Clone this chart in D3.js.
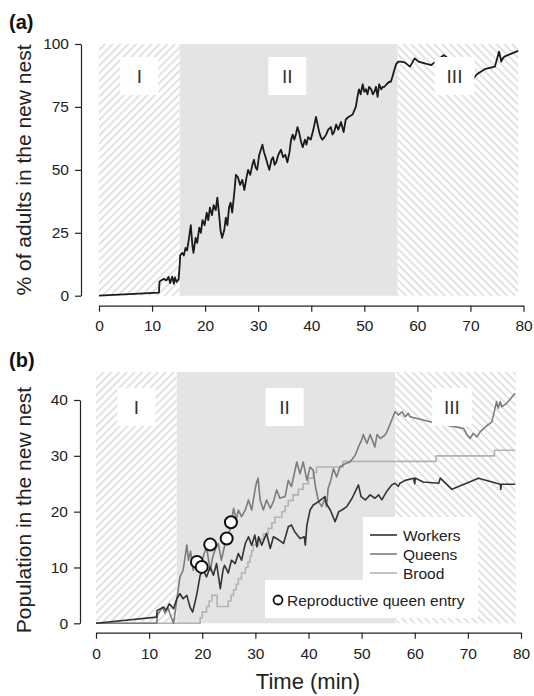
<!DOCTYPE html>
<html>
<head>
<meta charset="utf-8">
<script src="https://cdn.jsdelivr.net/npm/d3@7"></script>
<style>
  body { margin: 0; background: #fff; }
  svg { display: block; font-family: "Liberation Sans", Arial, sans-serif; }
  .axis text { font-size: 15.5px; fill: #222; }
  .axis path, .axis line { stroke: #222; stroke-width: 1.2; }
</style>
</head>
<body>
<div id="chart"></div>
<script>
// phase boundaries (min)
var phaseEdges = [0, 15.2, 56.3, 79];
var phaseNames = ['I', 'II', 'III'];
var phaseLabelAt = [7.6, 35.5, 67];
var timeTicks = [0, 10, 20, 30, 40, 50, 60, 70, 80];
var pctTicks = [0, 25, 50, 75, 100];
var popTicks = [0, 10, 20, 30, 40];

// (a) % of adults in the new nest, [time, %]
var adultsPct = [[0,0],[11.3,1.2],[11.4,5.6],[12.2,6.7],[12.7,6],[13.1,7.5],[13.4,5],[13.8,7.6],[14.1,4.7],[14.3,7.3],[14.6,5.5],[15.0,6.5],
  [15.2,12],[15.3,16],[15.7,17],[16.0,16],[16.3,19],[16.6,18],[16.9,22],[17.3,28],[17.6,20],[17.8,17],[18.2,23],[18.5,21],[18.9,27],
  [19.2,25],[19.5,30],[19.9,28],[20.3,33],[20.6,30],[20.9,35],[21.3,32],[21.6,36],[22.0,34],[22.3,39],[22.6,33],[22.9,26],[23.2,23],
  [23.6,26],[23.9,31],[24.2,28],[24.5,35],[24.8,37],[25.1,33],[25.5,41],[25.8,48],[26.2,47],[26.6,44],[27.0,46],[27.4,42],[27.8,47],
  [28.1,50],[28.5,48],[28.9,52],[29.2,54],[29.5,51],[29.8,50],[30.2,56],[30.5,58],[30.8,60],[31.1,57],[31.4,55],[31.8,52],[32.1,50],
  [32.5,54],[32.8,55],[33.1,52],[33.4,53],[33.8,56],[34.3,58],[34.7,55],[35.1,56],[35.5,53],[35.9,57],[36.2,62],[36.5,64],[36.8,62],
  [37.1,64],[37.4,67],[37.7,65],[38.1,61],[38.4,59],[38.8,62],[39.1,60],[39.4,63],[39.9,62],[40.4,66],[40.9,71],[41.2,68],[41.5,65],
  [41.8,63],[42.1,62],[42.5,63],[42.8,64],[43.2,66],[43.7,67],[44.0,64],[44.3,65],[44.7,68],[45.1,66],[45.6,69],[46.1,65],[46.5,70],
  [47.0,71],[47.8,72],[48.2,74],[48.4,75],[48.7,79],[49.0,82],[49.3,80],[49.7,84],[50.0,81],[50.3,82],[50.6,80],[50.9,83],[51.3,82],
  [51.6,80],[51.9,81],[52.2,83],[52.5,79],[52.8,84],[53.2,82],[53.5,83],[53.8,83],[54.2,84],[54.7,85],[55.0,85],[55.3,87],[55.7,90],
  [56.0,92],[56.4,93],[56.9,93],[57.6,92.7],[58.6,91],[59.5,94.3],[60.2,93],[62.6,91.6],[65,95.6],[70.5,86],[71.2,88],[72.7,90],
  [74.6,91],[75.4,97],[75.8,93],[76.0,94],[76.4,95],[79,97.3]];

// (b) population in the new nest, [time, count]
var workers = [[0,0],[11.4,1.1],[11.5,2.3],[12.7,2.9],[13.2,2.3],[13.8,3.5],[14.6,2.6],[15.2,4.4],[15.8,5.3],[16.4,4.4],[17.1,5],[17.7,2.9],
  [18.2,2],[19.0,5.3],[19.6,8.6],[20.2,9.5],[20.8,8.3],[21.5,10.1],[22.1,8.6],[22.7,10.7],[23.4,6.2],[23.9,9.5],[24.2,10.4],[24.9,9],
  [25.5,11.3],[26.2,10.7],[26.8,12.5],[27.4,11.3],[28.1,14.3],[28.7,15.5],[29.3,14],[29.9,15.8],[30.3,13.7],[30.6,15.5],[31.2,14],
  [32.1,16.1],[32.8,13.4],[33.4,15.5],[34.3,15],[35.3,14.3],[36.2,17.3],[36.8,17.6],[37.4,16.4],[38.4,15.2],[39.2,15.5],[39.4,14],
  [39.7,17.6],[40.3,20.3],[40.9,21.2],[41.9,21.8],[43.1,22.7],[43.3,21.5],[44.1,20.3],[45.0,18.2],[45.7,20],[46.3,20.3],[47.2,20.9],
  [48.2,22.4],[48.8,23.6],[49.4,24.8],[49.9,22.7],[50.7,22.1],[51.6,23],[52.5,22.4],[53.2,23],[53.8,22.1],[54.7,23.6],[55.7,24.8],
  [56.3,25.1],[56.9,24.5],[57.2,25.1],[58.2,25.6],[59.8,26],[60.0,25],[60.1,26],[61.6,25.3],[64.5,25.1],[64.8,26],[67,24],[72,26],
  [76.1,24.9],[76.2,24],[76.3,24.9],[78.9,24.9]];
var queens = [[0,0],[11.4,0],[11.6,1.5],[12.5,2.9],[13.0,1.8],[13.5,2.9],[14.0,1.5],[14.6,0],[15.2,4.1],[15.8,8.3],[16.4,9.5],[17.1,14],
  [17.4,11.3],[17.8,12.9],[18.3,9.5],[18.8,11.5],[19.5,9.7],[20.2,12],[20.8,13.7],[21.5,9.5],[22.0,12],[22.4,13.1],[23.0,14.3],
  [23.6,11.3],[24.3,14.3],[25.2,16.7],[25.9,20.6],[26.4,18.5],[26.8,20.3],[27.4,19.1],[28.1,20.3],[28.7,22.1],[29.3,20.3],[30.1,24.8],
  [30.5,26],[30.9,22.1],[31.5,20.3],[32.1,22.1],[32.8,20.6],[33.4,21.8],[34.0,23.9],[34.6,22.4],[35.6,22.7],[36.2,25.6],[36.8,24.5],
  [37.8,28.9],[38.4,26.8],[39.0,28.9],[39.7,25.6],[40.3,28],[40.9,27.4],[41.3,24.5],[41.9,21.8],[42.5,20.9],[43.1,22.4],[43.4,20.9],
  [43.7,24.2],[44.2,25.6],[44.7,27.7],[45.3,26.2],[45.9,28],[46.9,28.6],[47.8,28.9],[48.8,30.1],[49.4,31.6],[50.0,32.8],[50.3,33.8],
  [51.0,32.2],[51.6,33.8],[52.5,31.6],[52.9,33.8],[53.5,33.1],[54.4,33.7],[54.8,34.4],[55.4,35.8],[56.3,37.9],[56.9,37.3],[57.6,37.9],
  [58.2,37],[58.8,37.6],[59.1,37],[62.9,36.1],[66,35.5],[69.2,34.9],[69.8,33.8],[70.4,33.1],[71.0,34],[71.7,33.4],[72.3,34.3],
  [73.3,35.2],[74.5,36.1],[74.9,37.6],[75.4,39.7],[75.7,38.5],[76.1,39.7],[76.4,38.8],[77.3,39.4],[78.9,41.2]];
var brood = [[0,0],[19.6,1],[20.0,2],[20.8,3],[21.3,4],[21.8,5],[22.8,3],[24.9,4],[25.4,5],[25.9,6],[26.4,7],[26.8,8],[27.4,9],
  [28.1,10],[28.6,11],[29.0,12],[29.3,13],[29.6,14],[30.6,15],[31.5,16],[32.4,17],[33.1,18],[33.7,19],[35.0,20],[35.6,21],[36.2,22],
  [37.1,23],[38.1,24],[39.0,25],[40.0,26],[40.9,27],[41.5,28],[46.5,29],[64.0,30],[75.0,31],[78.9,31]];
var queenEntries = [[19.0,11],[19.9,10.1],[21.5,14.1],[24.6,15.2],[25.4,18.1]];

var seriesNames = ['Workers', 'Queens', 'Brood'];
var seriesColors = ['#333333', '#7c7c7c', '#b3b3b3'];

var W = 534, H = 696;
var svg = d3.select('#chart').append('svg').attr('width', W).attr('height', H);

// hatch patterns
var defs = svg.append('defs');
function hatch(id, angle) {
  var p = defs.append('pattern').attr('id', id)
    .attr('patternUnits', 'userSpaceOnUse')
    .attr('width', 5.5).attr('height', 5.5)
    .attr('patternTransform', 'rotate(' + angle + ')');
  p.append('rect').attr('width', 5.5).attr('height', 5.5).attr('fill', '#fff');
  p.append('line').attr('x1', 1).attr('y1', 0).attr('x2', 1).attr('y2', 5.5)
    .attr('stroke', '#dcdcdc').attr('stroke-width', 1.6);
}
hatch('hatchI', 45);
hatch('hatchIII', -45);

function panel(cfg) {
  var x = d3.scaleLinear().domain([0, 80]).range(cfg.xRange);
  var y = d3.scaleLinear().domain(cfg.yDomain).range(cfg.yRange);
  var g = svg.append('g');

  // phase backgrounds
  var fills = ['url(#hatchI)', '#e3e4e6', 'url(#hatchIII)'];
  phaseNames.forEach(function (n, i) {
    g.append('rect')
      .attr('x', x(phaseEdges[i]))
      .attr('y', y(cfg.shadeTop))
      .attr('width', x(phaseEdges[i + 1]) - x(phaseEdges[i]))
      .attr('height', y(0) - y(cfg.shadeTop))
      .attr('fill', fills[i]);
  });

  cfg.draw(g, x, y);

  // phase label boxes
  phaseNames.forEach(function (n, i) {
    var cx = x(phaseLabelAt[i]);
    var bw = n.length > 2 ? 40 : 38;
    g.append('rect').attr('x', cx - bw / 2).attr('y', cfg.boxTop)
      .attr('width', bw).attr('height', 38).attr('fill', '#fff');
    g.append('text').attr('x', cx).attr('y', cfg.boxTop + 26)
      .attr('text-anchor', 'middle').attr('font-size', 19).attr('fill', '#333')
      .text(n);
  });

  // axes
  g.append('g').attr('class', 'axis')
    .attr('transform', 'translate(0,' + cfg.xAxisY + ')')
    .call(d3.axisBottom(x).tickValues(timeTicks).tickSize(6).tickSizeOuter(0).tickPadding(cfg.xPad));
  g.append('g').attr('class', 'axis')
    .attr('transform', 'translate(' + cfg.yAxisX + ',0)')
    .call(d3.axisLeft(y).tickValues(cfg.yTicks).tickSize(6).tickSizeOuter(0).tickPadding(6));
  g.selectAll('.axis .domain').attr('stroke', '#222');

  g.append('text')
    .attr('transform', 'translate(' + cfg.titleX + ',' + cfg.titleY + ') rotate(-90)')
    .attr('text-anchor', 'middle').attr('font-size', 21).attr('fill', '#222')
    .text(cfg.yTitle);
  svg.append('text').attr('x', 9).attr('y', cfg.tagY)
    .attr('font-size', 20).attr('font-weight', 'bold').attr('fill', '#111')
    .text(cfg.tag);
  return { x: x, y: y, g: g };
}

// panel (a)
panel({
  xRange: [99, 523.5], yDomain: [0, 100], yRange: [295.7, 44], shadeTop: 100,
  boxTop: 57, xAxisY: 305.7, yAxisX: 81, xPad: 8, yTicks: pctTicks,
  titleX: 31, titleY: 170, yTitle: '% of adults in the new nest', tag: '(a)', tagY: 29,
  draw: function (g, x, y) {
    g.append('path').datum(adultsPct)
      .attr('fill', 'none').attr('stroke', '#1a1a1a').attr('stroke-width', 1.8)
      .attr('stroke-linejoin', 'round')
      .attr('d', d3.line().x(function (d) { return x(d[0]); }).y(function (d) { return y(d[1]); }));
  }
});

// panel (b)
panel({
  xRange: [96, 521], yDomain: [0, 40], yRange: [623.3, 400], shadeTop: 45,
  boxTop: 388, xAxisY: 632.7, yAxisX: 80, xPad: 9, yTicks: popTicks,
  titleX: 31, titleY: 510, yTitle: 'Population in the new nest', tag: '(b)', tagY: 367,
  draw: function (g, x, y) {
    var line = d3.line().x(function (d) { return x(d[0]); }).y(function (d) { return y(d[1]); });
    g.append('path').datum(brood).attr('fill', 'none').attr('stroke', seriesColors[2])
      .attr('stroke-width', 1.6).attr('d', line.curve(d3.curveStepAfter));
    line.curve(d3.curveLinear);
    g.append('path').datum(queens).attr('fill', 'none').attr('stroke', seriesColors[1])
      .attr('stroke-width', 1.6).attr('stroke-linejoin', 'round').attr('d', line);
    g.append('path').datum(workers).attr('fill', 'none').attr('stroke', seriesColors[0])
      .attr('stroke-width', 1.6).attr('stroke-linejoin', 'round').attr('d', line);
    g.selectAll('.entry').data(queenEntries).enter().append('circle')
      .attr('class', 'entry')
      .attr('cx', function (d) { return x(d[0]); })
      .attr('cy', function (d) { return y(d[1]); })
      .attr('r', 6).attr('fill', '#fff').attr('stroke', '#111').attr('stroke-width', 2);
  }
});

// x title
svg.append('text').attr('x', 308).attr('y', 689).attr('text-anchor', 'middle')
  .attr('font-size', 22).attr('fill', '#222').text('Time (min)');

// legend
var lg = svg.append('g');
lg.append('rect').attr('x', 363).attr('y', 517).attr('width', 115).attr('height', 101).attr('fill', '#fff');
lg.append('rect').attr('x', 265).attr('y', 580).attr('width', 213).attr('height', 38).attr('fill', '#fff');
seriesNames.forEach(function (n, i) {
  var yy = 535 + i * 19;
  lg.append('line').attr('x1', 370).attr('x2', 397).attr('y1', yy).attr('y2', yy)
    .attr('stroke', seriesColors[i]).attr('stroke-width', 1.6);
  lg.append('text').attr('x', 403).attr('y', yy + 6).attr('font-size', 15.5).attr('fill', '#222').text(n);
});
lg.append('circle').attr('cx', 278).attr('cy', 600).attr('r', 4.5)
  .attr('fill', '#fff').attr('stroke', '#111').attr('stroke-width', 1.8);
lg.append('text').attr('x', 287).attr('y', 606).attr('font-size', 15.5).attr('fill', '#222')
  .text('Reproductive queen entry');
</script>
</body>
</html>
